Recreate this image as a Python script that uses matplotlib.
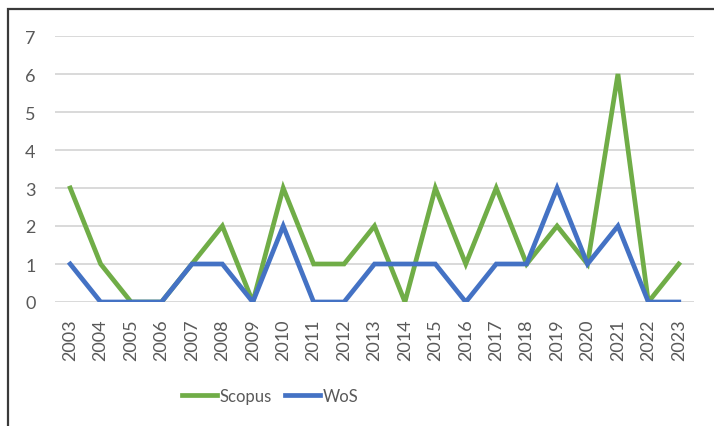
import matplotlib.pyplot as plt
from matplotlib.patches import Rectangle

years = [str(y) for y in range(2003, 2024)]
scopus = [3, 1, 0, 0, 1, 2, 0, 3, 1, 1, 2, 0, 3, 1, 3, 1, 2, 1, 6, 0, 1]
wos = [1, 0, 0, 0, 1, 1, 0, 2, 0, 0, 1, 1, 1, 0, 1, 1, 3, 1, 2, 0, 0]

plt.rcParams["font.family"] = ["Lato", "DejaVu Sans"]
txt = "#595959"

fig = plt.figure(figsize=(7.14, 4.27), dpi=100)
# outer chart frame (cut off on right and bottom, like the screenshot)
fig.patches.append(Rectangle((8 / 714, -0.05), 1.2, 1 - 10 / 427 + 0.05,
                             transform=fig.transFigure, fill=False,
                             edgecolor="#3a3a3a", linewidth=1.6))

ax = fig.add_axes([55 / 714, 124 / 427, 639 / 714, 266 / 427])
x = range(len(years))
ax.plot(x, scopus, color="#70AD47", linewidth=3.4, label="Scopus",
        solid_joinstyle="miter", zorder=3)
ax.plot(x, wos, color="#4472C4", linewidth=3.4, label="WoS",
        solid_joinstyle="miter", zorder=4)

ax.set_xlim(-0.5, len(years) - 0.5)
ax.set_ylim(0, 7)
ax.set_yticks(range(8))
ax.yaxis.grid(True, color="#D9D9D9", linewidth=1.4)
ax.set_axisbelow(True)
for s in ax.spines.values():
    s.set_visible(False)
ax.set_xticks(list(x))
ax.set_xticklabels(years, rotation=90)
ax.tick_params(axis="both", length=0, colors=txt, labelsize=13)
ax.tick_params(axis="y", pad=14)
ax.tick_params(axis="x", pad=12)

fig.legend(loc="center", bbox_to_anchor=(270 / 714, 1 - 397 / 427),
           ncol=2, frameon=False, fontsize=12, labelcolor=txt,
           handlelength=2.1, handletextpad=0.15, columnspacing=0.8)

fig.savefig("out.png", dpi=100)
